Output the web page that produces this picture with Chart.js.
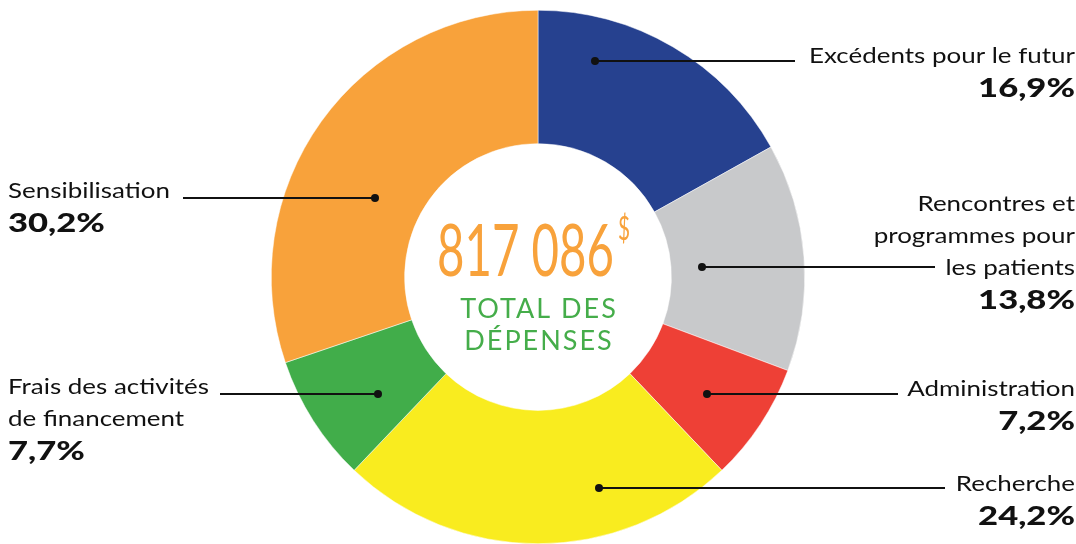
<!DOCTYPE html>
<html>
<head>
<meta charset="utf-8">
<script src="https://cdn.jsdelivr.net/npm/chart.js@4.4.1/dist/chart.umd.min.js"></script>
<style>
html,body{margin:0;padding:0;background:#fff;}
#wrap{position:relative;width:1076px;height:544px;}
</style>
</head>
<body>
<div id="wrap"><canvas id="c" width="1076" height="544"></canvas></div>
<script>
// ---- data ----
const categories = ['Excédents pour le futur', 'Rencontres et programmes pour les patients', 'Administration', 'Recherche', 'Frais des activités de financement', 'Sensibilisation'];
const values = [16.9, 13.8, 7.2, 24.2, 7.7, 30.2];
const labelLines = [
  ['Excédents pour le futur'],
  ['Rencontres et', 'programmes pour', 'les patients'],
  ['Administration'],
  ['Recherche'],
  ['Frais des activités', 'de financement'],
  ['Sensibilisation']
];
const totalAmount = '817 086';
const totalCaption = ['TOTAL DES', 'DÉPENSES'];
const colors = ['#26418f', '#c8c9cb', '#ee4036', '#f9ec1f', '#41ad4a', '#f8a23b'];

// ---- annotation layout (relative to chart center) ----
const annot = [
  {side:'right', dx:57,   dy:-216, lineEnd:795, baseY:63},
  {side:'right', dx:164,  dy:-10,  lineEnd:935, baseY:211},
  {side:'right', dx:169,  dy:117,  lineEnd:898, baseY:396},
  {side:'right', dx:61,   dy:211,  lineEnd:945, baseY:491},
  {side:'left',  dx:-160, dy:117,  lineEnd:220, baseY:394},
  {side:'left',  dx:-163, dy:-79,  lineEnd:183, baseY:198}
];

const FONT = 'Lato, "Noto Sans", sans-serif';
function pct(v){ return v.toFixed(1).replace('.', ',') + '%'; }

function drawScaled(ctx, text, x, y, sx, align){
  ctx.save();
  ctx.translate(x, y);
  ctx.scale(sx, 1);
  ctx.textAlign = align;
  ctx.fillText(text, 0, 0);
  ctx.restore();
}

const labelPlugin = {
  id: 'labels',
  afterDraw(chart){
    const ctx = chart.ctx;
    const arc = chart.getDatasetMeta(0).data[0];
    const cx = arc.x, cy = arc.y;
    ctx.save();
    annot.forEach((a, i) => {
      const dotX = cx + a.dx, dotY = cy + a.dy;
      ctx.strokeStyle = '#111';
      ctx.lineWidth = 2;
      ctx.beginPath();
      ctx.moveTo(dotX, dotY);
      ctx.lineTo(a.lineEnd, dotY);
      ctx.stroke();
      ctx.fillStyle = '#111';
      ctx.beginPath();
      ctx.arc(dotX, dotY, 4, 0, Math.PI*2);
      ctx.fill();
      const x = a.side === 'right' ? 1075 : 8;
      const align = a.side === 'right' ? 'right' : 'left';
      ctx.textBaseline = 'alphabetic';
      ctx.font = '400 22px ' + FONT;
      let y = a.baseY;
      labelLines[i].forEach((ln) => {
        drawScaled(ctx, ln, x, y, 1.18, align);
        y += 32;
      });
      y += 2;
      ctx.font = '900 27px ' + FONT;
      drawScaled(ctx, pct(values[i]), x, y, 1.28, align);
    });
    // center text
    ctx.fillStyle = '#f8a23b';
    ctx.font = '400 72px ' + FONT;
    ctx.textAlign = 'left';
    const w = ctx.measureText(totalAmount).width;
    const sx = 177 / w;
    drawScaled(ctx, totalAmount, cx - 101, 276, sx, 'left');
    ctx.font = '400 32px ' + FONT;
    drawScaled(ctx, '$', cx + 80, 240, 0.65, 'left');
    ctx.fillStyle = '#45ad4a';
    ctx.font = '400 27px ' + FONT;
    ctx.textAlign = 'center';
    if (ctx.letterSpacing !== undefined) ctx.letterSpacing = '2px';
    ctx.fillText(totalCaption[0], cx + 1, 318);
    ctx.fillText(totalCaption[1], cx + 1, 350);
    ctx.restore();
  }
};

new Chart(document.getElementById('c'), {
  type: 'doughnut',
  data: {
    labels: categories,
    datasets: [{
      data: values,
      backgroundColor: colors,
      borderColor: '#ffffff',
      borderWidth: 0.5,
      hoverOffset: 0
    }]
  },
  options: {
    responsive: false,
    animation: false,
    cutout: '50%',
    layout: {padding: {top: 10, bottom: 0, left: 0, right: 0}},
    plugins: {legend: {display: false}, tooltip: {enabled: false}}
  },
  plugins: [labelPlugin]
});
</script>
</body>
</html>
